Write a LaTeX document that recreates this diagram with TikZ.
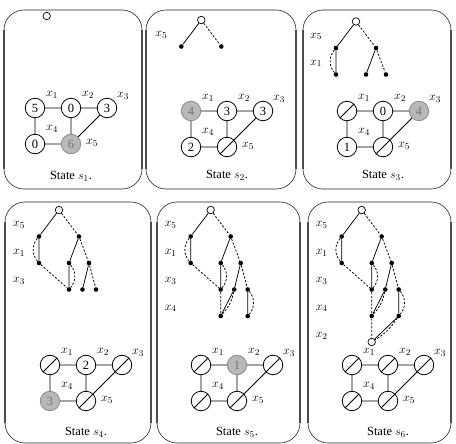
\documentclass[tikz,border=0pt]{standalone}
\usepackage{fontspec}
\setmainfont{Liberation Serif}
\newcommand\mypanel[4]{%
  \draw[panel] (#1,#2) rectangle (#3,#4);
  \draw[side] (#1,#2+20) -- (#1,#4-20);
  \draw[side] (#3,#2+20) -- (#3,#4-20);}
\begin{document}
\begin{tikzpicture}[x=1pt,y=-1pt,
  every node/.style={font=\fontsize{12.5}{14}\selectfont},
  gn/.style={circle,draw,line width=0.8pt,minimum size=19.5pt,inner sep=0pt},
  gg/.style={gn,fill=black!28,draw=black!45,text=black!55},
  gx/.style={gn,path picture={\draw[line width=0.8pt] (path picture bounding box.south west) -- (path picture bounding box.north east);}},
  ge/.style={line width=0.8pt},
  dt/.style={circle,fill,inner sep=0pt,minimum size=4.6pt},
  rt/.style={circle,draw,fill=white,line width=0.7pt,inner sep=0pt,minimum size=7.5pt},
  te/.style={line width=0.75pt},
  td/.style={line width=0.75pt,dash pattern=on 2.2pt off 1.6pt},
  lab/.style={inner sep=0pt},
  panel/.style={draw=black!85,line width=0.6pt,rounded corners=20pt},
  side/.style={draw=black!70,line width=1.4pt}
]
\useasboundingbox (0,0) rectangle (456,444);

% panels
\mypanel{4}{10}{142}{189}
\mypanel{146}{10}{296}{189}
\mypanel{303}{10}{451}{189}
\mypanel{5}{202}{151}{443}
\mypanel{157}{202}{300}{443}
\mypanel{308}{202}{451}{443}

% ---------- Panel 1 ----------
\node[rt] (ar) at (46.7,16) {};
\begin{scope}[shift={(35,108)}]
\node[gn] (a1) at (0,0) {5};
\node[gn] (a2) at (36,0) {0};
\node[gn] (a3) at (72,0) {3};
\node[gn] (a4) at (0,36) {0};
\node[gg] (a5) at (36,36) {6};
\node[lab] (a1l) at (17,-13) {$x_1$};
\node[lab] (a2l) at (53,-13) {$x_2$};
\node[lab] (a3l) at (88,-12) {$x_3$};
\node[lab] (a4l) at (17,21) {$x_4$};
\node[lab] (a5l) at (57,35) {$x_5$};
\draw[ge] (a1)--(a2) (a2)--(a3) (a1)--(a4) (a2)--(a5) (a4)--(a5) (a3)--(a5);
\node (as) at (36,68) {State $s_1$.};
\end{scope}

% ---------- Panel 2 ----------
\begin{scope}[shift={(201.3,20)}]
\node[rt] (br) at (0,0) {};
\node[dt] (ba) at (-20,26.5) {};
\node[dt] (bb) at (20,26.5) {};
\node[lab] (bl1) at (-40,15) {$x_5$};
\draw[te] (br)--(ba);
\draw[td] (br)--(bb);
\end{scope}
\begin{scope}[shift={(191,111)}]
\node[gg] (b1) at (0,0) {4};
\node[gn] (b2) at (36,0) {3};
\node[gn] (b3) at (72,0) {3};
\node[gn] (b4) at (0,36) {2};
\node[gx] (b5) at (36,36) {};
\node[lab] (b1l) at (17,-13) {$x_1$};
\node[lab] (b2l) at (53,-13) {$x_2$};
\node[lab] (b3l) at (88,-12) {$x_3$};
\node[lab] (b4l) at (17,21) {$x_4$};
\node[lab] (b5l) at (57,35) {$x_5$};
\draw[ge] (b1)--(b2) (b2)--(b3) (b1)--(b4) (b2)--(b5) (b4)--(b5) (b3)--(b5);
\node (bs) at (36,64) {State $s_2$.};
\end{scope}

% ---------- Panel 3 ----------
\begin{scope}[shift={(356,21.5)}]
\node[rt] (cr) at (0,0) {};
\node[dt] (ca) at (-20,26.5) {};
\node[dt] (cb) at (20,26.5) {};
\node[dt] (cc) at (-20,53) {};
\node[dt] (cd) at (10,53) {};
\node[dt] (ce) at (30,53) {};
\node[lab] (cl1) at (-40,15) {$x_5$};
\node[lab] (cl2) at (-40,42) {$x_1$};
\draw[te] (cr)--(ca) (ca)--(cc) (cb)--(cd);
\draw[td] (cr)--(cb) (cb)--(ce);
\draw[td] (ca) to[bend right=40] (cc);
\end{scope}
\begin{scope}[shift={(347,111)}]
\node[gx] (c1) at (0,0) {};
\node[gn] (c2) at (36,0) {0};
\node[gg] (c3) at (72,0) {4};
\node[gn] (c4) at (0,36) {1};
\node[gx] (c5) at (36,36) {};
\node[lab] (c1l) at (17,-13) {$x_1$};
\node[lab] (c2l) at (53,-13) {$x_2$};
\node[lab] (c3l) at (88,-12) {$x_3$};
\node[lab] (c4l) at (17,21) {$x_4$};
\node[lab] (c5l) at (57,35) {$x_5$};
\draw[ge] (c1)--(c2) (c2)--(c3) (c1)--(c4) (c2)--(c5) (c4)--(c5) (c3)--(c5);
\node (cs) at (36,64) {State $s_3$.};
\end{scope}

% ---------- Panel 4 ----------
\begin{scope}[shift={(59,210)}]
\node[rt] (dr) at (0,0) {};
\node[dt] (da) at (-20,26.5) {};
\node[dt] (db) at (20,26.5) {};
\node[dt] (dc) at (-20,53) {};
\node[dt] (dd) at (10,53) {};
\node[dt] (de) at (30,53) {};
\node[dt] (df) at (10,79.5) {};
\node[dt] (dg) at (23.5,79.5) {};
\node[dt] (dh) at (37,79.5) {};
\node[lab] (dl1) at (-40,15) {$x_5$};
\node[lab] (dl2) at (-40,42.8) {$x_1$};
\node[lab] (dl3) at (-40,70.6) {$x_3$};
\draw[te] (dr)--(da) (da)--(dc) (db)--(dd) (dd)--(df) (de)--(dg);
\draw[td] (dr)--(db) (db)--(de) (dc)--(df) (de)--(dh);
\draw[td] (da) to[bend right=40] (dc);
\draw[td] (dd) to[bend left=40] (df);
\end{scope}
\begin{scope}[shift={(50,365)}]
\node[gx] (d1) at (0,0) {};
\node[gn] (d2) at (36,0) {2};
\node[gx] (d3) at (72,0) {};
\node[gg] (d4) at (0,36) {3};
\node[gx] (d5) at (36,36) {};
\node[lab] (d1l) at (17,-13) {$x_1$};
\node[lab] (d2l) at (53,-13) {$x_2$};
\node[lab] (d3l) at (88,-12) {$x_3$};
\node[lab] (d4l) at (17,21) {$x_4$};
\node[lab] (d5l) at (57,35) {$x_5$};
\draw[ge] (d1)--(d2) (d2)--(d3) (d1)--(d4) (d2)--(d5) (d4)--(d5) (d3)--(d5);
\node (ds) at (36,67) {State $s_4$.};
\end{scope}

% ---------- Panel 5 ----------
\begin{scope}[shift={(210.7,210)}]
\node[rt] (er) at (0,0) {};
\node[dt] (ea) at (-20,26.5) {};
\node[dt] (eb) at (20,26.5) {};
\node[dt] (ec) at (-20,53) {};
\node[dt] (ed) at (10,53) {};
\node[dt] (ee) at (30,53) {};
\node[dt] (ef) at (10,79.5) {};
\node[dt] (eg) at (23.5,79.5) {};
\node[dt] (eh) at (37,79.5) {};
\node[dt] (ei) at (10,106) {};
\node[dt] (ej) at (37,106) {};
\node[lab] (el1) at (-40,15) {$x_5$};
\node[lab] (el2) at (-40,42.8) {$x_1$};
\node[lab] (el3) at (-40,70.6) {$x_3$};
\node[lab] (el4) at (-40,98.4) {$x_4$};
\draw[te] (er)--(ea) (ea)--(ec) (eb)--(ed) (ed)--(ef) (ee)--(eg) (eg)--(ei) (eh)--(ej);
\draw[td] (er)--(eb) (eb)--(ee) (ec)--(ef) (ee)--(eh) (ef)--(ei);
\draw[td] (ea) to[bend right=40] (ec);
\draw[td] (ed) to[bend left=40] (ef);
\draw[td] (eg) to[bend left=15] (ei);
\draw[td] (eh) to[bend left=40] (ej);
\end{scope}
\begin{scope}[shift={(201,365)}]
\node[gx] (e1) at (0,0) {};
\node[gg] (e2) at (36,0) {1};
\node[gx] (e3) at (72,0) {};
\node[gx] (e4) at (0,36) {};
\node[gx] (e5) at (36,36) {};
\node[lab] (e1l) at (17,-13) {$x_1$};
\node[lab] (e2l) at (53,-13) {$x_2$};
\node[lab] (e3l) at (88,-12) {$x_3$};
\node[lab] (e4l) at (17,21) {$x_4$};
\node[lab] (e5l) at (57,35) {$x_5$};
\draw[ge] (e1)--(e2) (e2)--(e3) (e1)--(e4) (e2)--(e5) (e4)--(e5) (e3)--(e5);
\node (es) at (36,67) {State $s_5$.};
\end{scope}

% ---------- Panel 6 ----------
\begin{scope}[shift={(361.7,210)}]
\node[rt] (fr) at (0,0) {};
\node[dt] (fa) at (-20,26.5) {};
\node[dt] (fb) at (20,26.5) {};
\node[dt] (fc) at (-20,53) {};
\node[dt] (fd) at (10,53) {};
\node[dt] (fe) at (30,53) {};
\node[dt] (ff) at (10,79.5) {};
\node[dt] (fg) at (23.5,79.5) {};
\node[dt] (fh) at (37,79.5) {};
\node[dt] (fi) at (10,106) {};
\node[dt] (fj) at (37,106) {};
\node[rt] (fk) at (10,132) {};
\node[lab] (fl1) at (-40,15) {$x_5$};
\node[lab] (fl2) at (-40,42.8) {$x_1$};
\node[lab] (fl3) at (-40,70.6) {$x_3$};
\node[lab] (fl4) at (-40,98.4) {$x_4$};
\node[lab] (fl5) at (-40,126.2) {$x_2$};
\draw[te] (fr)--(fa) (fa)--(fc) (fb)--(fd) (fd)--(ff) (fe)--(fg) (fg)--(fi) (fh)--(fj) (fj)--(fk);
\draw[td] (fr)--(fb) (fb)--(fe) (fc)--(ff) (fe)--(fh) (ff)--(fi) (fi)--(fk);
\draw[td] (fa) to[bend right=40] (fc);
\draw[td] (fd) to[bend left=40] (ff);
\draw[td] (fg) to[bend left=15] (fi);
\draw[td] (fh) to[bend left=40] (fj);
\draw[td] (fj) to[bend left=12] (fk);
\end{scope}
\begin{scope}[shift={(352,365)}]
\node[gx] (f1) at (0,0) {};
\node[gx] (f2) at (36,0) {};
\node[gx] (f3) at (72,0) {};
\node[gx] (f4) at (0,36) {};
\node[gx] (f5) at (36,36) {};
\node[lab] (f1l) at (17,-13) {$x_1$};
\node[lab] (f2l) at (53,-13) {$x_2$};
\node[lab] (f3l) at (88,-12) {$x_3$};
\node[lab] (f4l) at (17,21) {$x_4$};
\node[lab] (f5l) at (57,35) {$x_5$};
\draw[ge] (f1)--(f2) (f2)--(f3) (f1)--(f4) (f2)--(f5) (f4)--(f5) (f3)--(f5);
\node (fs) at (36,67) {State $s_6$.};
\end{scope}
\end{tikzpicture}
\end{document}
